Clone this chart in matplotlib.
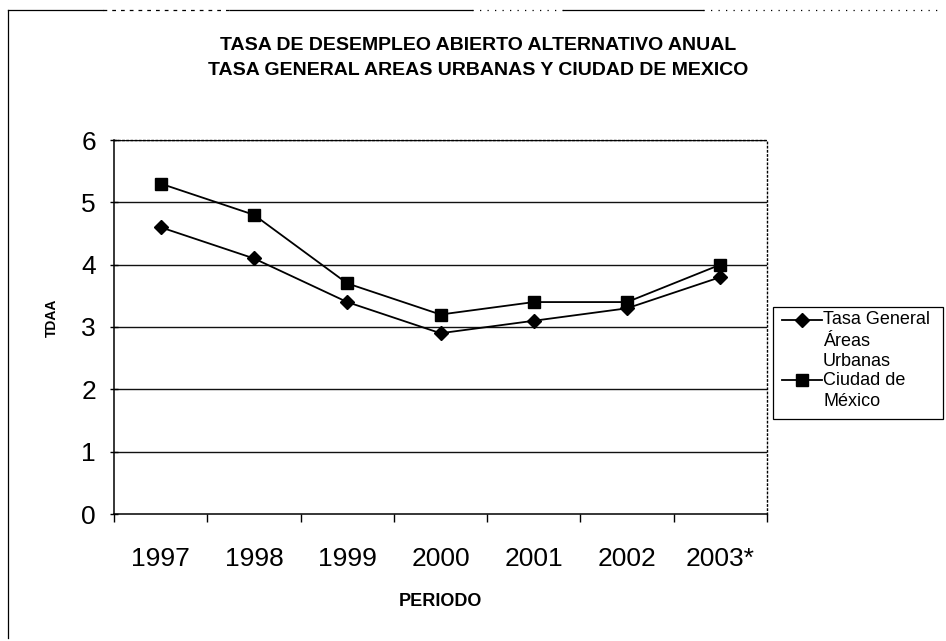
import matplotlib
matplotlib.use("Agg")
import matplotlib.pyplot as plt
from matplotlib.lines import Line2D
from matplotlib.patches import Rectangle

plt.rcParams['font.family'] = ['Liberation Sans', 'DejaVu Sans']

years = ['1997', '1998', '1999', '2000', '2001', '2002', '2003*']
tasa_general = [4.6, 4.1, 3.4, 2.9, 3.1, 3.3, 3.8]
ciudad_mexico = [5.3, 4.8, 3.7, 3.2, 3.4, 3.4, 4.0]
series_labels = [['Tasa General', 'Áreas', 'Urbanas'], ['Ciudad de', 'México']]
series_markers = ['D', 's']
title = 'TASA DE DESEMPLEO ABIERTO ALTERNATIVO ANUAL\nTASA GENERAL AREAS URBANAS Y CIUDAD DE MEXICO'
yticks = [0, 1, 2, 3, 4, 5, 6]

W, H = 946, 641
fig = plt.figure(figsize=(W / 100, H / 100), dpi=100)


def fx(px):
    return px / W


def fy(py):
    return 1 - py / H


ax = fig.add_axes([fx(114), fy(514), fx(767 - 114), (514 - 140) / H])

x = list(range(len(years)))
for v in yticks[1:]:
    ax.axhline(v, color='#111111', lw=1.0, zorder=1)

l1, = ax.plot(x, tasa_general, color='black', lw=1.3, marker='D', markersize=7,
              markerfacecolor='black', zorder=3)
l2, = ax.plot(x, ciudad_mexico, color='black', lw=1.3, marker='s', markersize=9,
              markerfacecolor='black', zorder=3)

ax.set_xlim(-0.5, len(years) - 0.5)
ax.set_ylim(0, 6)
ax.set_yticks(yticks)
ax.set_xticks(x)
ax.set_xticklabels(years)
ax.set_xticks([i - 0.5 for i in range(len(years) + 1)], minor=True)
ax.tick_params(axis='x', which='major', length=0, pad=24, labelsize=19)
ax.tick_params(axis='x', which='minor', length=6, width=1, direction='out')
ax.tick_params(axis='y', which='major', length=6, width=1, direction='inout', pad=10, labelsize=19)

for s in ['top', 'right']:
    ax.spines[s].set_linestyle((0, (1, 2)))
    ax.spines[s].set_linewidth(1.0)
for s in ['left', 'bottom']:
    ax.spines[s].set_linewidth(1.1)

fig.text(fx(52), fy(318), 'TDAA', rotation=90, ha='center', va='center',
         fontsize=10, fontweight='bold')
fig.text(fx(440), fy(601), 'PERIODO', ha='center', va='center',
         fontsize=13, fontweight='bold')
fig.text(fx(478), fy(58), title, ha='center', va='center', fontsize=14,
         fontweight='bold', linespacing=1.65)

# legend box (drawn by hand so each handle sits on the first line of its label)
fig.add_artist(Rectangle((fx(773), fy(419)), fx(943 - 773), (419 - 307) / H,
                         transform=fig.transFigure, fill=True, facecolor='white',
                         edgecolor='black', lw=0.9))
line_ys = [[320, 341, 361], [380, 401]]
for labels, ys, mk in zip(series_labels, line_ys, series_markers):
    fig.add_artist(Line2D([fx(782), fx(822)], [fy(ys[0]), fy(ys[0])], color='black',
                          lw=1.3))
    fig.add_artist(Line2D([fx(802)], [fy(ys[0])], color='black', marker=mk,
                          markersize=7 if mk == 'D' else 8, markerfacecolor='black'))
    for lab, yy in zip(labels, ys):
        fig.text(fx(823), fy(yy), lab, ha='left', va='center', fontsize=13)

# outer border of the chart object
fig.add_artist(Line2D([fx(8), fx(8)], [fy(10), 0.005], color='black', lw=0.9))
top_segments = [(8, 103, '-'), (103, 230, (0, (3, 4))), (230, 472, '-'),
                (472, 563, (0, (1, 5))), (563, 703, '-'), (703, 940, (0, (1, 5)))]
for a, b, ls in top_segments:
    fig.add_artist(Line2D([fx(a), fx(b)], [fy(10), fy(10)], color='black', lw=0.9,
                          linestyle=ls))

fig.savefig('out.png', dpi=100)
